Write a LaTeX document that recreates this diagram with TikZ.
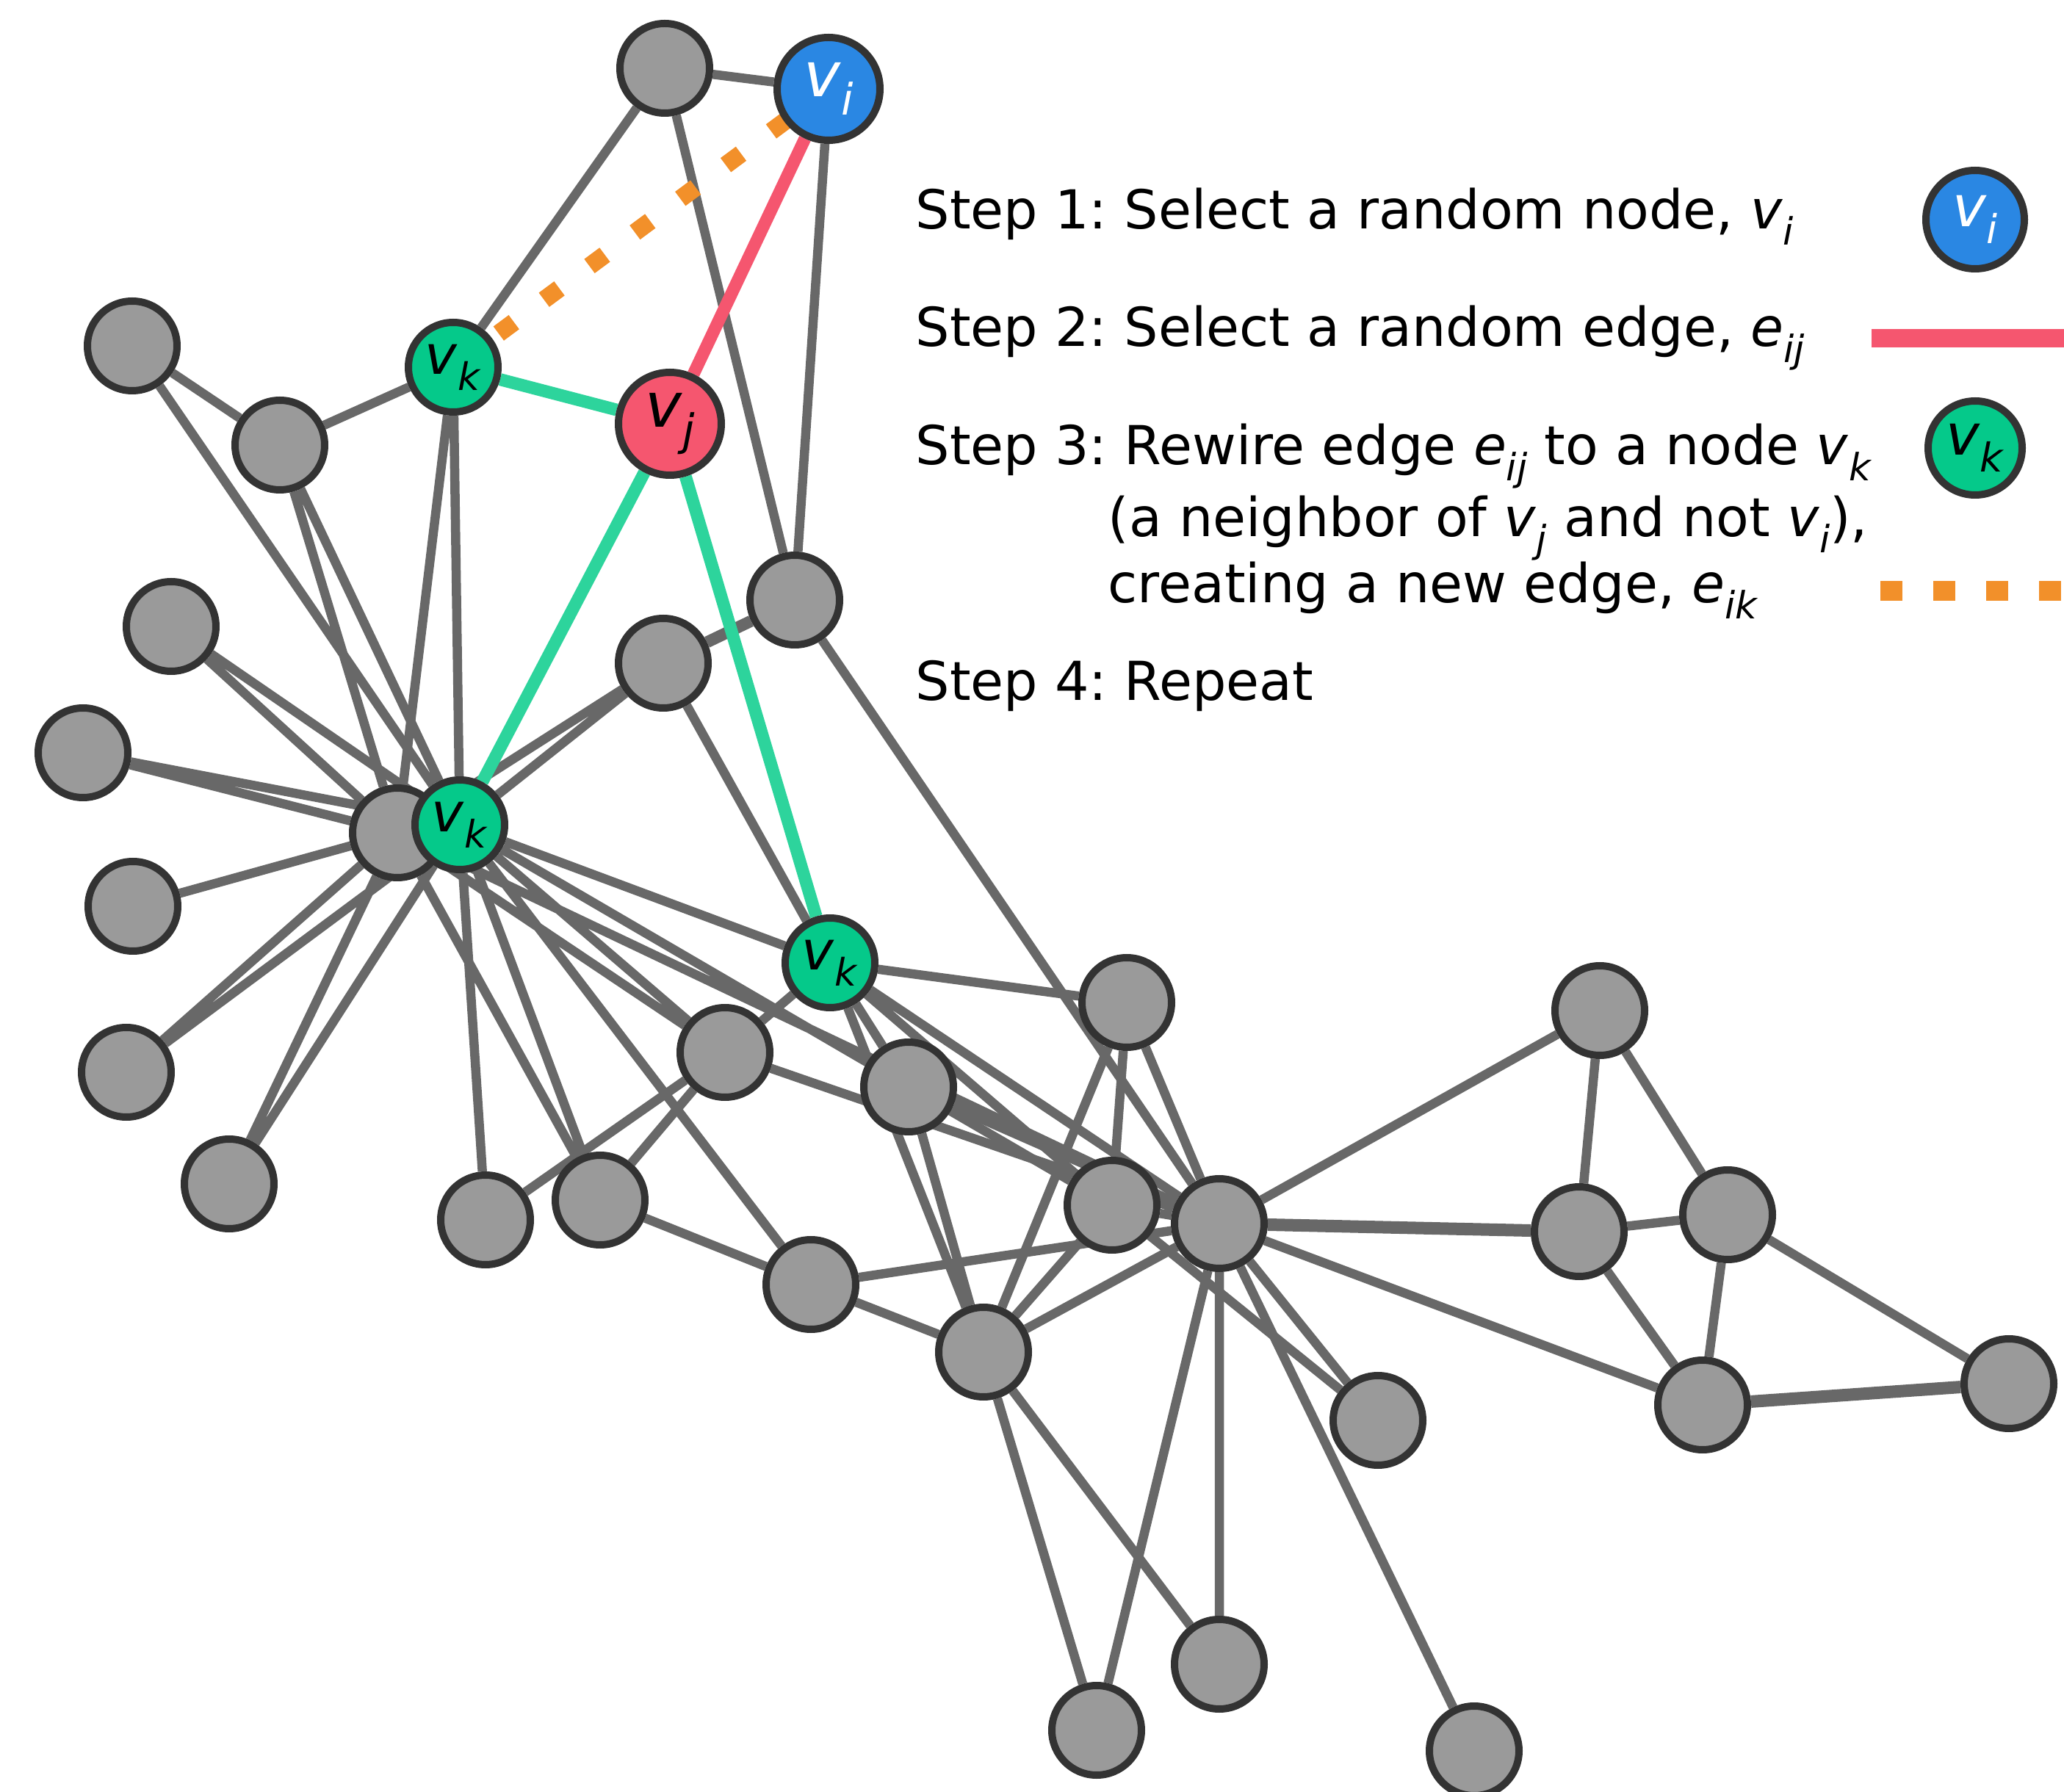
\documentclass[tikz,border=0pt]{standalone}
\usepackage{fontspec}
\setmainfont{DejaVu Sans}
\usetikzlibrary{backgrounds}
\definecolor{nodegray}{HTML}{9A9A9A}
\definecolor{rimgray}{HTML}{333333}
\definecolor{edgegray}{HTML}{686868}
\definecolor{iblue}{HTML}{2A87E3}
\definecolor{jred}{HTML}{F5566F}
\definecolor{kgreen}{HTML}{05C98A}
\definecolor{kline}{HTML}{2DD49C}
\definecolor{neworange}{HTML}{F2902A}
\newcommand{\vsub}[2]{\textit{#1}\raisebox{-0.3em}{\scalebox{0.7}{\textit{#2}}}}
\frenchspacing
\begin{document}
\begin{tikzpicture}[
  gnode/.style={circle, draw=rimgray, line width=0.1cm, fill=nodegray, minimum size=1.22cm, inner sep=0pt},
  inode/.style={gnode, fill=iblue, minimum size=1.4cm, text=white, font=\fontsize{24}{24}\selectfont},
  jnode/.style={gnode, fill=jred, minimum size=1.4cm, font=\fontsize{24}{24}\selectfont},
  knode/.style={gnode, fill=kgreen, font=\fontsize{21}{21}\selectfont},
  gedge/.style={edgegray, line width=0.125cm},
  kedge/.style={kline, line width=0.17cm},
  jedge/.style={jred, line width=0.17cm},
  newedge/.style={neworange, line width=0.24cm, dash pattern=on 0.26cm off 0.51cm},
  steptext/.style={anchor=base west, inner sep=0pt, font=\fontsize{20.8}{25}\selectfont}]
\useasboundingbox (0,0) rectangle (28.10,-24.40);

% the graph
\node[gnode] (n1) at (9.05,-0.93) {};
\node[inode] (vi) at (11.28,-1.21) {\vsub{v}{i}};
\node[gnode] (n3) at (1.80,-4.71) {};
\node[knode] (vka) at (6.17,-5.00) {\vsub{v}{k}};
\node[gnode] (n5) at (3.81,-6.06) {};
\node[jnode] (vj) at (9.12,-5.77) {\vsub{v}{j}};
\node[gnode] (n7) at (2.33,-8.53) {};
\node[gnode] (n8) at (10.82,-8.17) {};
\node[gnode] (n9) at (9.03,-9.03) {};
\node[gnode] (n10) at (1.13,-10.25) {};
\node[gnode] (hub) at (5.41,-11.34) {};
\node[knode] (vkb) at (6.26,-11.23) {\vsub{v}{k}};
\node[gnode] (n13) at (1.81,-12.34) {};
\node[knode] (vkc) at (11.30,-13.11) {\vsub{v}{k}};
\node[gnode] (n15) at (1.72,-14.60) {};
\node[gnode] (n16) at (3.12,-16.12) {};
\node[gnode] (n17) at (6.61,-16.61) {};
\node[gnode] (n18) at (8.17,-16.34) {};
\node[gnode] (n19) at (9.87,-14.33) {};
\node[gnode] (n20) at (12.37,-14.80) {};
\node[gnode] (n21) at (15.34,-13.65) {};
\node[gnode] (n22) at (15.14,-16.41) {};
\node[gnode] (n23) at (16.60,-16.66) {};
\node[gnode] (n24) at (11.04,-17.49) {};
\node[gnode] (n25) at (13.39,-18.41) {};
\node[gnode] (n26) at (18.76,-19.34) {};
\node[gnode] (n27) at (16.60,-22.66) {};
\node[gnode] (n28) at (14.93,-23.56) {};
\node[gnode] (n29) at (20.07,-23.84) {};
\node[gnode] (n30) at (21.78,-13.76) {};
\node[gnode] (n31) at (21.50,-16.77) {};
\node[gnode] (n32) at (23.52,-16.54) {};
\node[gnode] (n33) at (23.18,-19.13) {};
\node[gnode] (n34) at (27.35,-18.84) {};

\begin{scope}[on background layer]
\draw[gedge] (n1) -- (vi) (n1) -- (vka) (n1) -- (n8) (vi) -- (n8);
\draw[gedge] (vka) -- (n5) (vka) -- (hub) (vka) -- (vkb);
\draw[gedge] (n3) -- (n5) (n3) -- (vkb) (n5) -- (hub) (n5) -- (vkb);
\draw[gedge] (n7) -- (hub) (n7) -- (vkb) (n10) -- (hub) (n10) -- (vkb) (n13) -- (hub);
\draw[gedge] (n15) -- (hub) (n15) -- (vkb) (n16) -- (hub) (n16) -- (vkb);
\draw[gedge] (n17) -- (vkb) (n17) -- (n19) (n18) -- (hub) (n18) -- (vkb) (n18) -- (n19) (n18) -- (n24);
\draw[gedge] (hub) -- (n9) (vkb) -- (n9) (n9) -- (vkc) (n8) -- (n23);
\draw[gedge, line width=0.16cm] (n9) -- (n8);
\draw[gedge] (vkb) -- (vkc) (vkb) -- (n24) (vkb) -- (n19) (hub) -- (n19) (vkb) -- (n22) (hub) -- (n23);
\draw[gedge] (vkc) -- (n21) (vkc) -- (n19) (vkc) -- (n20) (vkc) -- (n25) (vkc) -- (n22) (vkc) -- (n23);
\draw[gedge] (n19) -- (n23) (n20) -- (n25) (n20) -- (n23);
\draw[gedge] (n21) -- (n22) (n21) -- (n23) (n21) -- (n25) (n22) -- (n23) (n22) -- (n25) (n22) -- (n26);
\draw[gedge] (n24) -- (n25) (n24) -- (n23) (n25) -- (n23) (n25) -- (n27) (n25) -- (n28);
\draw[gedge] (n23) -- (n26) (n23) -- (n27) (n23) -- (n28) (n23) -- (n29);
\draw[gedge] (n23) -- (n30) (n23) -- (n33) (n30) -- (n31) (n30) -- (n32);
\draw[gedge] (n31) -- (n32) (n31) -- (n33) (n32) -- (n33) (n32) -- (n34);
\draw[gedge, line width=0.17cm] (n23) -- (n31) (n33) -- (n34);
\draw[kedge] (vj) -- (vka) (vj) -- (vkb) (vj) -- (vkc);
\draw[jedge] (vi) -- (vj);
\draw[newedge] (vka.center) -- (vi.center);
\end{scope}

% the legend
\node[steptext] (s1) at (12.46,-3.12) {Step 1: Select a random node, \vsub{v}{i}};
\node[steptext] (s2) at (12.46,-4.72) {Step 2: Select a random edge, \vsub{e}{ij}};
\node[steptext] (s3) at (12.46,-6.33) {Step 3: Rewire edge \vsub{e}{ij} to a node \vsub{v}{k}};
\node[steptext] (s3b) at (15.08,-7.31) {(a neighbor of \vsub{v}{j} and not \vsub{v}{i}),};
\node[steptext] (s3c) at (15.08,-8.21) {creating a new edge, \vsub{e}{ik}};
\node[steptext] (s4) at (12.46,-9.54) {Step 4: Repeat};
\node[inode, minimum size=1.34cm, font=\fontsize{22}{22}\selectfont] (li) at (26.89,-2.99) {\vsub{v}{i}};
\node[knode, minimum size=1.28cm, font=\fontsize{22}{22}\selectfont] (lk) at (26.89,-6.10) {\vsub{v}{k}};
\coordinate (ra) at (25.48,-4.61);
\coordinate (rb) at (28.10,-4.61);
\draw[jred, line width=0.25cm] (ra) -- (rb);
\coordinate (oa) at (25.60,-8.05);
\coordinate (ob) at (28.10,-8.05);
\draw[neworange, line width=0.27cm, dash pattern=on 0.3cm off 0.42cm] (oa) -- (ob);
\end{tikzpicture}
\end{document}
